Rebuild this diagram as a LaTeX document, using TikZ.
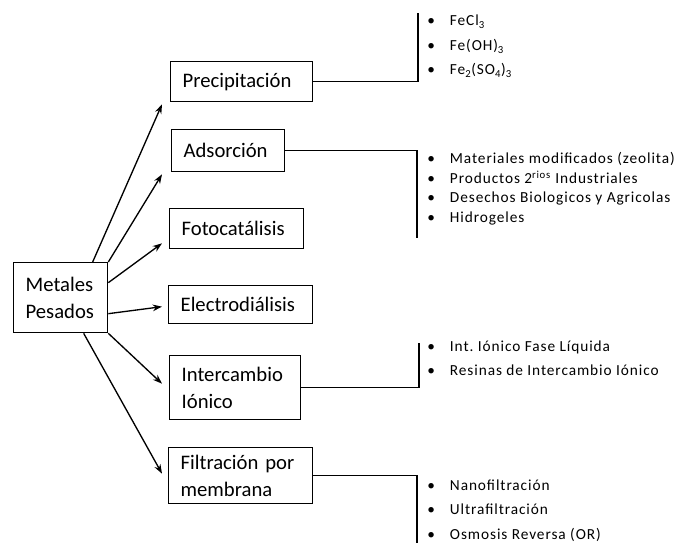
\documentclass[tikz,border=0pt]{standalone}
\usepackage{fontspec}
\setmainfont{Carlito}
\newfontfamily\itemfont[LetterSpace=6]{Carlito}
\usetikzlibrary{arrows.meta,positioning}
\tikzset{
  caja/.style 2 args={draw=black, line width=1pt, anchor=north west, align=left,
    inner xsep=9pt, inner ysep=0pt, text width={(#1-24)*0.75pt}, minimum height={#2*0.75pt},
    font=\fontsize{15.5}{20.5}\selectfont},
  flecha/.style={draw=black, line width=1pt, -{Stealth[length=7pt, width=5pt]}},
  rama/.style={draw=black, line width=1pt},
  % listas
  punto/.style={anchor=west, inner sep=0pt, text height=1.6ex, text depth=.4ex,
    font=\itemfont\fontsize{11.5}{14}\selectfont}
}
\newcommand{\vin}[1]{\makebox[17pt][l]{\textbullet}#1}

\begin{document}
\begin{tikzpicture}[x=0.75pt, y=-0.75pt]
  \useasboundingbox (0,0) rectangle (681,543);
  \node[caja={94}{70}] (met) at (13,262) {Metales\\Pesados};
  \node[caja={142}{40}] (prec) at (170,61) {Precipitación};
  \node[caja={113}{42}] (ads) at (171,129) {Adsorción};
  \node[caja={134}{40}] (foto) at (169,208) {Fotocatálisis};
  \node[caja={144}{38}] (elec) at (168,285) {Electrodiálisis};
  \node[caja={131}{64}] (inter) at (169,355) {Intercambio\\Iónico};
  \node[caja={144}{56}] (filt) at (168,447) {Filtración por\\membrana};

  \draw[flecha] ([shift={(32,0)}]met.north) -- ([shift={(-8,2)}]prec.south west);
  \draw[flecha] (met.north east) -- ([shift={(-9,2)}]ads.south west);
  \draw[flecha] ([shift={(0,-15)}]met.east) -- ([shift={(-7,-6)}]foto.south west);
  \draw[flecha] ([shift={(0,16)}]met.east) -- ([shift={(-6,2)}]elec.west);
  \draw[flecha] (met.south east) -- ([shift={(-7,-4)}]inter.west);
  \draw[flecha] ([shift={(23,0)}]met.south) -- ([shift={(-6,-2)}]filt.west);

  % corchetes
  \coordinate (precTop) at (418,13);
  \coordinate (adsBot) at (417,238);
  \coordinate (interTop) at (419,343);
  \coordinate (filtBot) at (417,543);
  \draw[rama] (prec.east) -| (precTop);
  \draw[rama] (ads.east) -| (adsBot);
  \draw[rama] (inter.east) -| (interTop);
  \draw[rama] (filt.east) -| (filtBot);

  \node[punto] (p1) at (427,22) {\vin{FeCl\textsubscript{3}}};
  \node[punto] (p2) at (427,47) {\vin{Fe(OH)\textsubscript{3}}};
  \node[punto] (p3) at (427,71) {\vin{Fe\textsubscript{2}(SO\textsubscript{4})\textsubscript{3}}};

  \node[punto] (a1) at (427,160) {\vin{Materiales modificados (zeolita)}};
  \node[punto] (a2) at (427,180) {\vin{Productos 2\textsuperscript{rios} Industriales}};
  \node[punto] (a3) at (427,199) {\vin{Desechos Biologicos y Agricolas}};
  \node[punto] (a4) at (427,219) {\vin{Hidrogeles}};

  \node[punto] (i1) at (427,348) {\vin{Int.\ Iónico Fase Líquida}};
  \node[punto] (i2) at (427,372) {\vin{Resinas de Intercambio Iónico}};

  \node[punto] (f1) at (427,487) {\vin{Nanofiltración}};
  \node[punto] (f2) at (427,511) {\vin{Ultrafiltración}};
  \node[punto] (f3) at (427,536) {\vin{Osmosis Reversa (OR)}};
\end{tikzpicture}
\end{document}
